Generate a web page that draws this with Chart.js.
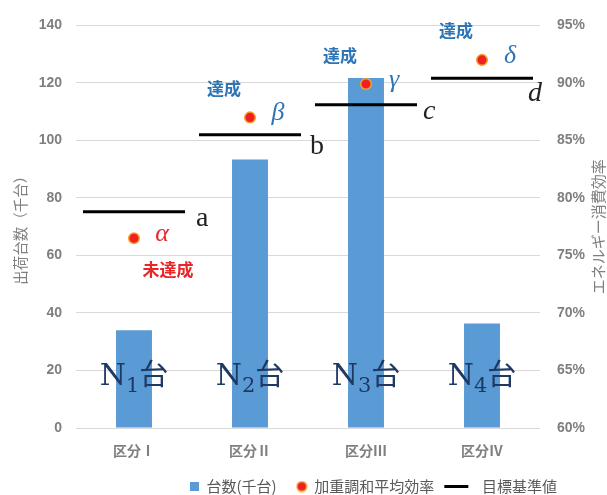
<!DOCTYPE html>
<html>
<head>
<meta charset="utf-8">
<script src="https://cdn.jsdelivr.net/npm/chart.js@4.4.0/dist/chart.umd.min.js"></script>
<style>
  html, body { margin: 0; padding: 0; background: #fff; }
</style>
</head>
<body>
<canvas id="chart" width="607" height="495"></canvas>
<script>
// ====== DADOS ======
const categories = ["区分Ⅰ", "区分Ⅱ", "区分Ⅲ", "区分Ⅳ"];
const units = [34, 93.4, 121.7, 36.3];          // 台数(千台)
const efficiency = [76.5, 87.0, 89.9, 92.0];    // 加重調和平均効率 (%)
const targets = [78.8, 85.5, 88.1, 90.4];       // 目標基準値 (%)
const countTicks = [0, 20, 40, 60, 80, 100, 120, 140];
const effTicks = [60, 65, 70, 75, 80, 85, 90, 95];
const greekLabels = ["α", "β", "γ", "δ"];
const targetLabels = ["a", "b", "c", "d"];

// ====== CORES ======
const barBlue = "#5B9BD5";
const dotRed = "#EE2020";
const dotOrange = "#F5A030";
const textBlue = "#2E75B6";
const textRed = "#E8262A";
const navy = "#1F3864";
const gray = "#7F7F7F";
const cjk = '"Noto Sans CJK JP", sans-serif';

Chart.defaults.font.family = '"Liberation Sans", "Noto Sans CJK JP", sans-serif';

// icones da legenda
function makeIcon(w, h, draw) {
  const c = document.createElement("canvas");
  c.width = w;
  c.height = h;
  draw(c.getContext("2d"));
  return c;
}
const iconBar = makeIcon(9, 9, (g) => {
  g.fillStyle = barBlue;
  g.fillRect(0, 0, 9, 9);
});
const iconDot = makeIcon(12, 12, (g) => {
  g.beginPath();
  g.arc(6, 6, 4.8, 0, Math.PI * 2);
  g.fillStyle = dotRed;
  g.fill();
  g.lineWidth = 1.5;
  g.strokeStyle = dotOrange;
  g.stroke();
});
const iconLine = makeIcon(48, 3, (g) => {
  g.fillStyle = "#000";
  g.fillRect(19, 0, 24, 3);
});

// textos sobre o grafico
const annotate = {
  id: "annotate",
  afterDatasetsDraw(chart) {
    const { ctx, chartArea, scales } = chart;
    const x = scales.x;
    const y1 = scales.y1;
    // pequenos ajustes das letras a..d
    const letterNudge = [[5, -2], [3, 3], [0, -2], [-11, 7]];
    const letterItalic = [false, false, true, true];
    ctx.save();
    efficiency.forEach((v, i) => {
      const cx = x.getPixelForValue(i);
      const dy = y1.getPixelForValue(v);
      const ty = y1.getPixelForValue(targets[i]);
      const ok = v >= targets[i];

      // letra grega
      ctx.textAlign = "center";
      ctx.textBaseline = "middle";
      ctx.fillStyle = ok ? textBlue : textRed;
      ctx.font = 'italic 26px "Liberation Serif"';
      ctx.fillText(greekLabels[i], cx + 28, dy - 4);

      // 達成 / 未達成
      ctx.font = "bold 17px " + cjk;
      if (ok) ctx.fillText("達成", cx - 26, dy - 29);
      else ctx.fillText("未達成", cx + 34, dy + 31);

      // letra do alvo
      ctx.textAlign = "left";
      ctx.textBaseline = "alphabetic";
      ctx.fillStyle = "#222";
      ctx.font = (letterItalic[i] ? "italic " : "") + '28px "Liberation Serif"';
      ctx.fillText(targetLabels[i], cx + 57 + letterNudge[i][0], ty + 16 + letterNudge[i][1]);

      // N_i 台
      const base = chartArea.bottom - 43;
      const parts = [
        ["N", '30px "DejaVu Serif"', 0],
        [String(i + 1), '21px "DejaVu Serif"', 7],
        ["台", "29px " + cjk, 0],
      ];
      let w = 0;
      parts.forEach((p) => {
        ctx.font = p[1];
        w += ctx.measureText(p[0]).width;
      });
      let px = cx - w / 2;
      ctx.fillStyle = navy;
      parts.forEach((p) => {
        ctx.font = p[1];
        ctx.fillText(p[0], px, base + p[2]);
        px += ctx.measureText(p[0]).width;
      });
    });

    // titulo do eixo direito (de baixo para cima)
    ctx.translate(598, chartArea.top + (chartArea.bottom - chartArea.top) / 2);
    ctx.rotate(-Math.PI / 2);
    ctx.textAlign = "center";
    ctx.textBaseline = "middle";
    ctx.fillStyle = gray;
    ctx.font = "15px " + cjk;
    ctx.fillText("エネルギー消費効率", 0, 0);
    ctx.restore();
  },
};

new Chart(document.getElementById("chart"), {
  data: {
    labels: categories,
    datasets: [
      {
        type: "bar",
        label: "台数(千台)",
        data: units,
        yAxisID: "y",
        backgroundColor: barBlue,
        categoryPercentage: 1,
        barPercentage: 0.31,
        order: 3,
      },
      {
        type: "line",
        label: "加重調和平均効率",
        data: efficiency,
        yAxisID: "y1",
        showLine: false,
        pointRadius: 5.3,
        pointBackgroundColor: dotRed,
        pointBorderColor: dotOrange,
        pointBorderWidth: 1.5,
        backgroundColor: dotRed,
        borderColor: dotOrange,
        order: 1,
      },
      {
        type: "line",
        label: "目標基準値",
        data: targets,
        yAxisID: "y1",
        showLine: false,
        pointStyle: "line",
        pointRadius: 51,
        pointBorderColor: "#000",
        pointBorderWidth: 3,
        borderColor: "#000",
        order: 2,
      },
    ],
  },
  options: {
    responsive: false,
    animation: false,
    layout: { autoPadding: false, padding: { top: 20, right: 0, bottom: -9, left: 0 } },
    plugins: {
      tooltip: { enabled: false },
      legend: {
        position: "bottom",
        align: "end",
        labels: {
          usePointStyle: true,
          boxWidth: 10,
          boxHeight: 10,
          padding: 10,
          color: "#595959",
          font: { size: 15, family: cjk },
          generateLabels(chart) {
            const items = Chart.defaults.plugins.legend.labels.generateLabels(chart);
            items.sort((a, b) => a.datasetIndex - b.datasetIndex);
            const icons = [iconBar, iconDot, iconLine];
            items.forEach((it) => {
              it.pointStyle = icons[it.datasetIndex];
            });
            // espacos para aproximar o layout da legenda original
            items[0].text += "   ";
            items[2].text = "      " + items[2].text + "\u3000\u3000   ";
            return items;
          },
        },
      },
    },
    scales: {
      x: {
        grid: { display: false, drawTicks: false },
        border: { display: false },
        ticks: { color: gray, font: { size: 14, weight: "bold", family: cjk }, padding: 14 },
        afterFit: (s) => { s.height = 41; },
      },
      y: {
        position: "left",
        min: countTicks[0],
        max: countTicks[countTicks.length - 1],
        afterBuildTicks: (s) => { s.ticks = countTicks.map((v) => ({ value: v })); },
        grid: { color: "#D9D9D9", drawTicks: false },
        border: { display: false },
        ticks: { color: gray, font: { size: 14, weight: "bold" }, padding: 14 },
        title: {
          display: true,
          text: "出荷台数（千台）",
          color: gray,
          font: { size: 14.5, family: cjk },
          padding: { top: 12, bottom: 0 },
        },
        afterFit: (s) => { s.width = 76; },
      },
      y1: {
        position: "right",
        min: effTicks[0],
        max: effTicks[effTicks.length - 1],
        afterBuildTicks: (s) => { s.ticks = effTicks.map((v) => ({ value: v })); },
        grid: { display: false, drawTicks: false },
        border: { display: false },
        ticks: { color: gray, font: { size: 14, weight: "bold" }, padding: 17, callback: (v) => v + "%" },
        afterFit: (s) => { s.width = 67; },
      },
    },
  },
  plugins: [annotate],
});
</script>
</body>
</html>
